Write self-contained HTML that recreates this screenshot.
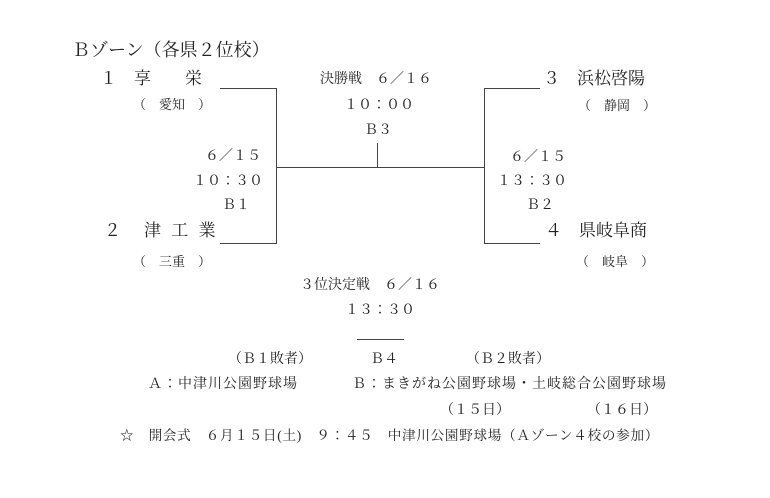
<!DOCTYPE html>
<html><head><meta charset="utf-8"><style>
body{margin:0;width:770px;height:498px;background:#fff;position:relative;overflow:hidden;font-family:"Liberation Serif","Noto Serif CJK JP","Noto Serif CJK SC",serif;color:#222}
.t{position:absolute;white-space:pre;line-height:1;font-size:14px}
.l{position:absolute;background:#444}
</style></head><body>
<div class="t" style="left:72px;top:41px;font-size:18px">Ｂゾーン（各県２位校）</div>
<div class="t" style="left:100px;top:70px;font-size:17px">１　享　　栄</div>
<div class="t" style="left:133px;top:98px;font-size:13px">（　愛知　）</div>
<div class="t" style="left:205px;top:150px">６／１５</div>
<div class="t" style="left:193px;top:175px">１０：３０</div>
<div class="t" style="left:222px;top:199px">Ｂ１</div>
<div class="t" style="left:104px;top:222px;font-size:17px;letter-spacing:3px">２　津 工 業</div>
<div class="t" style="left:133px;top:255px;font-size:13px">（　三重　）</div>

<div class="t" style="left:320px;top:73px">決勝戦　６／１６</div>
<div class="t" style="left:344px;top:99px">１０：００</div>
<div class="t" style="left:364px;top:124px">Ｂ３</div>

<div class="t" style="left:543px;top:70px;font-size:17px">３　浜松啓陽</div>
<div class="t" style="left:578px;top:99px;font-size:13px">（　静岡　）</div>
<div class="t" style="left:510px;top:151px">６／１５</div>
<div class="t" style="left:497px;top:175px">１３：３０</div>
<div class="t" style="left:526px;top:199px">Ｂ２</div>
<div class="t" style="left:545px;top:222px;font-size:17px">４　県岐阜商</div>
<div class="t" style="left:576px;top:255px;font-size:13px">（　岐阜　）</div>

<div class="t" style="left:300px;top:279px">３位決定戦　６／１６</div>
<div class="t" style="left:345px;top:304px">１３：３０</div>
<div class="l" style="left:357px;top:339px;width:47px;height:1px"></div>
<div class="t" style="left:228px;top:353px">（Ｂ１敗者）</div>
<div class="t" style="left:370px;top:353px">Ｂ４</div>
<div class="t" style="left:466px;top:353px">（Ｂ２敗者）</div>
<div class="t" style="left:148px;top:378px;letter-spacing:1px">Ａ：中津川公園野球場</div>
<div class="t" style="left:352px;top:378px;letter-spacing:1px">Ｂ：まきがね公園野球場・土岐総合公園野球場</div>
<div class="t" style="left:440px;top:404px">（１５日）</div>
<div class="t" style="left:587px;top:404px">（１６日）</div>
<div class="t" style="left:120px;top:429px;font-size:13.6px;letter-spacing:0.7px">☆　開会式　６月１５日(土)　９：４５　中津川公園野球場（Ａゾーン４校の参加）</div>

<div class="l" style="left:220px;top:88px;width:57px;height:1px"></div>
<div class="l" style="left:276px;top:88px;width:1px;height:156px"></div>
<div class="l" style="left:220px;top:243px;width:57px;height:1px"></div>
<div class="l" style="left:276px;top:167px;width:209px;height:1px"></div>
<div class="l" style="left:377px;top:143px;width:1px;height:24px"></div>
<div class="l" style="left:484px;top:88px;width:1px;height:156px"></div>
<div class="l" style="left:484px;top:88px;width:56px;height:1px"></div>
<div class="l" style="left:484px;top:243px;width:56px;height:1px"></div>
</body></html>
